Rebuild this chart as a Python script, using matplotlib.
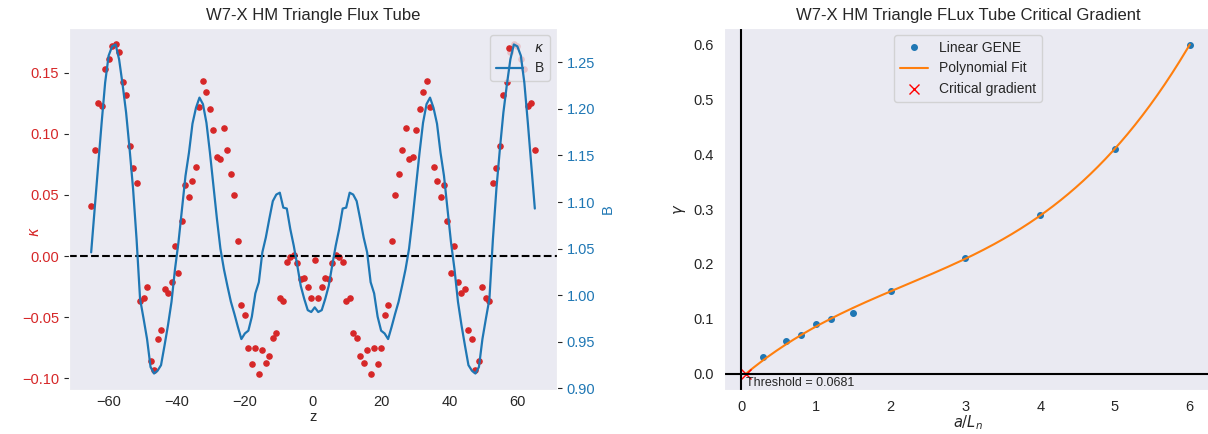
import numpy as np
import matplotlib
matplotlib.use("Agg")
import matplotlib.pyplot as plt
import seaborn as sns

# ── flux tube geometry along the field line ──
z_min, z_max, n_z = -65.0, 65.0, 128

kappa = [
    0.041, 0.087, 0.125, 0.123, 0.153, 0.161, 0.172, 0.173, 0.167, 0.142,
    0.132, 0.090, 0.072, 0.060, -0.037, -0.034, -0.025, -0.086, -0.093, -0.068,
    -0.060, -0.027, -0.030, -0.021, 0.008, -0.014, 0.029, 0.058, 0.048, 0.061,
    0.073, 0.122, 0.143, 0.134, 0.120, 0.103, 0.081, 0.079, 0.105, 0.087,
    0.067, 0.050, 0.012, -0.040, -0.048, -0.075, -0.088, -0.075, -0.096, -0.077,
    -0.087, -0.082, -0.067, -0.063, -0.034, -0.037, -0.005, -0.001, 0.001, -0.006,
    -0.019, -0.018, -0.025, -0.034, -0.003, -0.034, -0.025, -0.018, -0.019, -0.006,
    0.001, -0.001, -0.005, -0.037, -0.034, -0.063, -0.067, -0.082, -0.087, -0.077,
    -0.096, -0.075, -0.088, -0.075, -0.048, -0.040, 0.012, 0.050, 0.067, 0.087,
    0.105, 0.079, 0.081, 0.103, 0.120, 0.134, 0.143, 0.122, 0.073, 0.061,
    0.048, 0.058, 0.029, -0.014, 0.008, -0.021, -0.030, -0.027, -0.060, -0.068,
    -0.093, -0.086, -0.025, -0.034, -0.037, 0.060, 0.072, 0.090, 0.132, 0.142,
    0.167, 0.173, 0.172, 0.161, 0.153, 0.123, 0.125, 0.087,
]

B = [
    1.046, 1.093, 1.139, 1.185, 1.228, 1.257, 1.267, 1.269, 1.253, 1.226,
    1.196, 1.157, 1.114, 1.060, 0.996, 0.975, 0.953, 0.923, 0.916, 0.919,
    0.925, 0.946, 0.968, 0.993, 1.028, 1.057, 1.093, 1.128, 1.153, 1.184,
    1.201, 1.212, 1.205, 1.185, 1.153, 1.117, 1.082, 1.050, 1.028, 1.010,
    0.993, 0.980, 0.966, 0.953, 0.959, 0.962, 0.977, 1.002, 1.014, 1.046,
    1.062, 1.082, 1.101, 1.108, 1.110, 1.094, 1.093, 1.071, 1.053, 1.032,
    1.010, 0.996, 0.984, 0.982, 0.987, 0.982, 0.984, 0.996, 1.010, 1.032,
    1.053, 1.071, 1.093, 1.094, 1.110, 1.108, 1.101, 1.082, 1.062, 1.046,
    1.014, 1.002, 0.977, 0.962, 0.959, 0.953, 0.966, 0.980, 0.993, 1.010,
    1.028, 1.050, 1.082, 1.117, 1.153, 1.185, 1.205, 1.212, 1.201, 1.184,
    1.153, 1.128, 1.093, 1.057, 1.028, 0.993, 0.968, 0.946, 0.925, 0.919,
    0.916, 0.923, 0.953, 0.975, 0.996, 1.060, 1.114, 1.157, 1.196, 1.226,
    1.253, 1.269, 1.267, 1.257, 1.228, 1.185, 1.139, 1.093,
]

# ── linear GENE growth rates vs density gradient ──
a_Ln = [0.3, 0.6, 0.8, 1.0, 1.2, 1.5, 2.0, 3.0, 4.0, 5.0, 6.0]
gamma = [0.03, 0.06, 0.07, 0.09, 0.10, 0.11, 0.15, 0.21, 0.29, 0.41, 0.60]
threshold = 0.0681


def cubic_through_root(x, y, x0):
    """Least-squares cubic constrained to vanish at x0."""
    x = np.asarray(x, dtype=float)
    y = np.asarray(y, dtype=float)
    d = x - x0
    A = np.column_stack([d, d * x, d * x**2])
    c, *_ = np.linalg.lstsq(A, y, rcond=None)
    return lambda t: (t - x0) * (c[0] + c[1] * t + c[2] * t**2)


def main():
    sns.set_style("dark")
    plt.rcParams["font.family"] = ["Liberation Sans", "DejaVu Sans"]
    plt.rcParams["xtick.labelsize"] = 10.5
    plt.rcParams["ytick.labelsize"] = 10.5
    plt.rcParams["axes.labelsize"] = 10.5
    plt.rcParams["axes.titlesize"] = 12
    plt.rcParams["legend.fontsize"] = 10

    z = np.linspace(z_min, z_max, n_z)

    fig = plt.figure(figsize=(12.08, 4.34), dpi=100)
    ax1 = fig.add_axes([0.0571, 0.1014, 0.404, 0.834])
    ax3 = fig.add_axes([0.5993, 0.1014, 0.404, 0.834])

    # left: curvature and field strength
    red, blue = "tab:red", "tab:blue"
    sc = ax1.scatter(z, kappa, color=red, s=14, label=r"$\kappa$")
    ax1.axhline(0.0, color="black", linestyle="--", linewidth=1.5)
    ax1.set_xlabel("z", labelpad=1)
    ax1.set_ylabel(r"$\kappa$", color=red)
    ax1.yaxis.set_label_coords(-0.055, 0.436)
    ax1.tick_params(axis="y", labelcolor=red)
    ax1.tick_params(axis="x", pad=0)
    ax1.set_title("W7-X HM Triangle Flux Tube")

    ax2 = ax1.twinx()
    ln, = ax2.plot(z, B, color=blue, linewidth=1.6, label="B")
    ax2.set_ylabel("B", color=blue)
    ax2.tick_params(axis="y", labelcolor=blue)
    ax1.legend(handles=[sc, ln], loc="upper right")

    # right: growth rate and critical gradient
    fit = cubic_through_root(a_Ln, gamma, threshold)
    xfit = np.linspace(threshold, max(a_Ln), 300)
    ax3.plot(a_Ln, gamma, "o", color="tab:blue", markersize=4, label="Linear GENE")
    ax3.plot(xfit, fit(xfit), color="tab:orange", linewidth=1.5,
             label="Polynomial Fit")
    ax3.plot([threshold], [0.0], "x", color="red", markersize=7,
             label="Critical gradient")
    ax3.axhline(0.0, color="black", linewidth=1.5)
    ax3.axvline(0.0, color="black", linewidth=1.5)
    ax3.text(threshold, -0.017, f"Threshold = {threshold}", fontsize=9,
             ha="left", va="center")
    ax3.set_xlabel(r"$a/L_n$", labelpad=0)
    ax3.set_ylabel(r"$\gamma$")
    ax3.set_title("W7-X HM Triangle FLux Tube Critical Gradient")
    ax3.legend(loc="upper center")

    fig.savefig("out.png", dpi=100)


if __name__ == "__main__":
    main()
